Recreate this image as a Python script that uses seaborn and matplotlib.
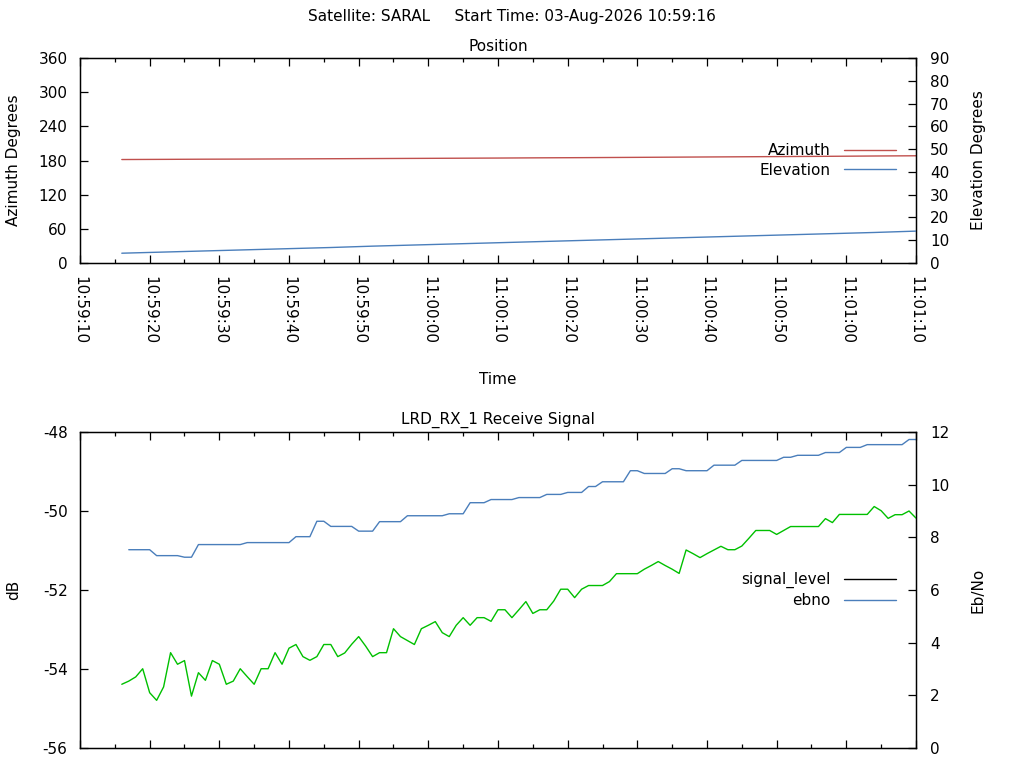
import pandas as pd
import seaborn as sns
import matplotlib
matplotlib.use('Agg')
import matplotlib.pyplot as plt
import matplotlib.dates as mdates
from matplotlib.lines import Line2D

# ---- data ----
# position samples every 6 s, 10:59:16 .. 11:01:10
pos_times = pd.date_range('2026-08-03 10:59:16', '2026-08-03 11:01:10', freq='6s')
azimuth = [181.7, 182.0, 182.3, 182.5, 182.8, 183.1, 183.4, 183.7, 184.0, 184.3,
           184.7, 185.0, 185.4, 185.8, 186.2, 186.6, 187.0, 187.4, 187.9, 188.3]
elevation = [4.3, 4.8, 5.3, 5.8, 6.3, 6.8, 7.4, 7.9, 8.4, 8.9,
             9.4, 9.9, 10.4, 10.9, 11.4, 11.9, 12.4, 12.9, 13.4, 14.0]

# receive signal, one sample per second
signal_level = [
    -50.98, -50.98, -50.98, -50.98, -51.13, -51.13, -51.13, -51.13, -51.17, -51.17,
    -50.85, -50.85, -50.85, -50.85, -50.85, -50.85, -50.85, -50.80, -50.80, -50.80,
    -50.80, -50.80, -50.80, -50.80, -50.65, -50.65, -50.65, -50.26, -50.26, -50.39,
    -50.39, -50.39, -50.39, -50.51, -50.51, -50.51, -50.27, -50.27, -50.27, -50.27,
    -50.12, -50.12, -50.12, -50.12, -50.12, -50.12, -50.07, -50.07, -50.07, -49.79,
    -49.79, -49.79, -49.71, -49.71, -49.71, -49.71, -49.66, -49.66, -49.66, -49.66,
    -49.58, -49.58, -49.58, -49.53, -49.53, -49.53, -49.38, -49.38, -49.26, -49.26,
    -49.26, -49.26, -48.98, -48.98, -49.05, -49.05, -49.05, -49.05, -48.93, -48.93,
    -48.98, -48.98, -48.98, -48.98, -48.84, -48.84, -48.84, -48.84, -48.72, -48.72,
    -48.72, -48.72, -48.72, -48.72, -48.64, -48.64, -48.59, -48.59, -48.59, -48.59,
    -48.52, -48.52, -48.52, -48.39, -48.39, -48.39, -48.32, -48.32, -48.32, -48.32,
    -48.32, -48.32, -48.19, -48.19]
ebno = [
    2.42, 2.54, 2.70, 3.01, 2.10, 1.81, 2.32, 3.62, 3.18, 3.32,
    1.97, 2.86, 2.57, 3.32, 3.18, 2.42, 2.54, 3.01, 2.71, 2.42,
    3.01, 3.01, 3.62, 3.18, 3.79, 3.93, 3.47, 3.33, 3.47, 3.93,
    3.93, 3.47, 3.61, 3.94, 4.23, 3.87, 3.47, 3.62, 3.62, 4.53,
    4.23, 4.08, 3.93, 4.53, 4.66, 4.80, 4.38, 4.23, 4.66, 4.95,
    4.66, 4.95, 4.95, 4.81, 5.25, 5.25, 4.95, 5.25, 5.56, 5.11,
    5.25, 5.25, 5.58, 6.03, 6.03, 5.71, 6.03, 6.17, 6.17, 6.17,
    6.32, 6.62, 6.62, 6.62, 6.62, 6.79, 6.93, 7.08, 6.93, 6.79,
    6.63, 7.52, 7.38, 7.23, 7.38, 7.52, 7.66, 7.53, 7.53, 7.67,
    7.96, 8.26, 8.26, 8.26, 8.11, 8.26, 8.41, 8.41, 8.41, 8.41,
    8.41, 8.71, 8.56, 8.87, 8.87, 8.87, 8.87, 8.87, 9.17, 9.01,
    8.72, 8.86, 8.86, 9.00, 8.73]
sig_times = pd.date_range('2026-08-03 10:59:17', periods=len(signal_level), freq='s')
ebno_times = pd.date_range('2026-08-03 10:59:16', periods=len(ebno), freq='s')

RED = '#c0504d'
BLUE = '#4a7ebb'
GREEN = '#00c000'

sns.set_style('ticks', {'axes.edgecolor': 'black', 'text.color': 'black',
                        'axes.labelcolor': 'black', 'xtick.color': 'black',
                        'ytick.color': 'black'})
plt.rcParams['font.family'] = ['DejaVu Sans']
plt.rcParams['font.size'] = 11
plt.rcParams['axes.unicode_minus'] = False

fig = plt.figure(figsize=(10.24, 7.68), dpi=100)
W, H = 1024, 768


def axes_at(l, t, r, b):
    return fig.add_axes([l / W, 1 - b / H, (r - l) / W, (b - t) / H])


xmin = pd.Timestamp('2026-08-03 10:59:10')
xmax = pd.Timestamp('2026-08-03 11:01:10')


def style_x(ax, labels):
    ax.set_xlim(xmin, xmax)
    ax.xaxis.set_major_locator(mdates.SecondLocator(bysecond=range(0, 60, 10)))
    ax.xaxis.set_minor_locator(mdates.SecondLocator(bysecond=range(5, 60, 10)))
    ax.xaxis.set_major_formatter(mdates.DateFormatter('%H:%M:%S'))
    ax.tick_params(axis='x', which='both', direction='in', top=True, bottom=True,
                   labelbottom=labels, labelrotation=-90, pad=9)
    ax.tick_params(axis='x', which='major', length=6, width=0.9)
    ax.tick_params(axis='x', which='minor', length=3, width=0.9)
    for s in ax.spines.values():
        s.set_linewidth(1.0)


# ---- top: position ----
ax1 = axes_at(80, 58, 916, 263)
ax1b = ax1.twinx()
sns.lineplot(x=pos_times, y=azimuth, ax=ax1, color=RED, lw=1)
sns.lineplot(x=pos_times, y=elevation, ax=ax1b, color=BLUE, lw=1)
style_x(ax1, True)
ax1.set_ylim(0, 360)
ax1.set_yticks(range(0, 361, 60))
ax1b.set_ylim(0, 90)
ax1b.set_yticks(range(0, 91, 10))
ax1.tick_params(axis='y', direction='in', length=6, width=0.9, pad=9, right=False)
ax1b.tick_params(axis='y', direction='in', length=6, width=0.9, pad=10)
ax1.set_xlabel('Time')
ax1.xaxis.label.set_va('center')
ax1.xaxis.set_label_coords(0.5, -(379 - 263) / 205)
ax1.set_ylabel('Azimuth Degrees', va='center')
ax1.yaxis.set_label_coords(-(80 - 14) / 836, 0.5)
ax1b.set_ylabel('Elevation Degrees', va='center', rotation=90)
ax1b.yaxis.set_label_coords((978 - 80) / 836, 0.5)
ax1.set_title('Position', y=1 + (58 - 46) / 205, va='center', fontsize=11, pad=0)
ax1b.legend([Line2D([], [], color=RED, lw=1), Line2D([], [], color=BLUE, lw=1)],
            ['Azimuth', 'Elevation'], loc='center right', frameon=False,
            markerfirst=False, handlelength=3.4, handletextpad=0.9,
            labelspacing=0.3, borderaxespad=0.9, fontsize=11)

# ---- bottom: receive signal ----
ax2 = axes_at(80, 432, 916, 748)
ax2b = ax2.twinx()
sns.lineplot(x=sig_times, y=signal_level, ax=ax2, color=BLUE, lw=1)
sns.lineplot(x=ebno_times, y=ebno, ax=ax2b, color=GREEN, lw=1)
style_x(ax2, False)
ax2.set_ylim(-56, -48)
ax2.set_yticks(range(-56, -47, 2))
ax2b.set_ylim(0, 12)
ax2b.set_yticks(range(0, 13, 2))
ax2.tick_params(axis='y', direction='in', length=6, width=0.9, pad=9, right=False)
ax2b.tick_params(axis='y', direction='in', length=6, width=0.9, pad=10)
ax2.set_xlabel('')
ax2.set_ylabel('dB', va='center')
ax2.yaxis.set_label_coords(-(80 - 14) / 836, 0.5)
ax2b.set_ylabel('Eb/No', va='center', rotation=90)
ax2b.yaxis.set_label_coords((978 - 80) / 836, 0.5)
ax2.set_title('LRD_RX_1 Receive Signal', y=1 + (432 - 420) / 316, va='center',
              fontsize=11, pad=0)
ax2b.legend([Line2D([], [], color='black', lw=1), Line2D([], [], color=BLUE, lw=1)],
            ['signal_level', 'ebno'], loc='center right', frameon=False,
            markerfirst=False, handlelength=3.4, handletextpad=0.9,
            labelspacing=0.3, borderaxespad=0.9, fontsize=11)

fig.suptitle('Satellite: SARAL     Start Time: 03-Aug-2026 10:59:16',
             y=1 - 17 / H, va='center', fontsize=11)

fig.savefig('out.png', dpi=100)
